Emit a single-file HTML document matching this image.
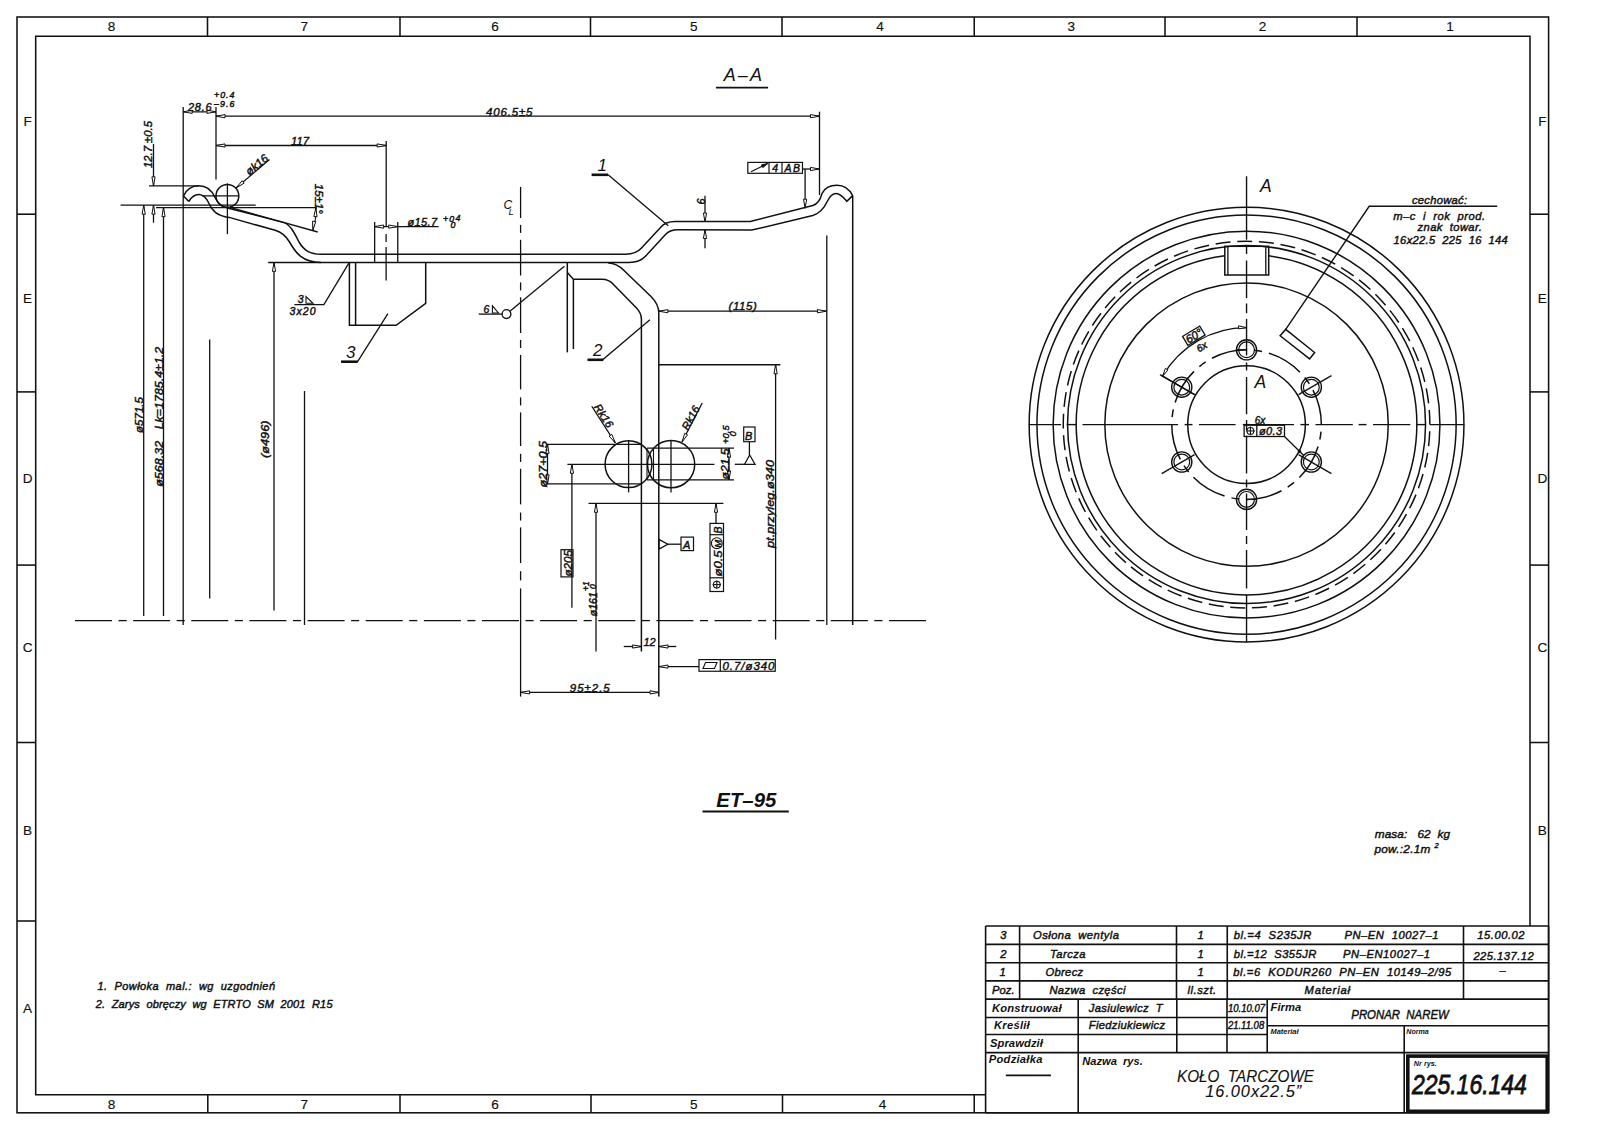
<!DOCTYPE html>
<html><head><meta charset="utf-8"><title>KOLO TARCZOWE 16.00x22.5</title>
<style>
html,body{margin:0;padding:0;background:#fff;width:1600px;height:1130px;overflow:hidden}
svg{display:block}
svg text{white-space:pre;font-family:"Liberation Sans",sans-serif;font-style:italic;fill:#111;stroke:#111;stroke-width:0.45px}
svg text[style*="font-weight:bold"]{stroke:none}
</style></head><body>
<svg width="1600" height="1130" viewBox="0 0 1600 1130">
<g stroke="#111" fill="none" stroke-width="1.5">
<rect x="17" y="17" width="1531.6" height="1095.8" stroke-width="1.55"/>
<path d="M985.6,1094.8 L35.7,1094.8 L35.7,36.2 L1530,36.2 L1530,926" stroke-width="1.55"/>
<line x1="207.5" y1="17" x2="207.5" y2="36.2" stroke-width="1.55"/>
<line x1="400" y1="17" x2="400" y2="36.2" stroke-width="1.55"/>
<line x1="590.5" y1="17" x2="590.5" y2="36.2" stroke-width="1.55"/>
<line x1="782" y1="17" x2="782" y2="36.2" stroke-width="1.55"/>
<line x1="974.25" y1="17" x2="974.25" y2="36.2" stroke-width="1.55"/>
<line x1="1165" y1="17" x2="1165" y2="36.2" stroke-width="1.55"/>
<line x1="1357" y1="17" x2="1357" y2="36.2" stroke-width="1.55"/>
<line x1="207.8" y1="1094.8" x2="207.8" y2="1112.8" stroke-width="1.55"/>
<line x1="400" y1="1094.8" x2="400" y2="1112.8" stroke-width="1.55"/>
<line x1="591" y1="1094.8" x2="591" y2="1112.8" stroke-width="1.55"/>
<line x1="782.5" y1="1094.8" x2="782.5" y2="1112.8" stroke-width="1.55"/>
<line x1="974.25" y1="1094.8" x2="974.25" y2="1112.8" stroke-width="1.55"/>
<line x1="17" y1="214.2" x2="35.7" y2="214.2" stroke-width="1.55"/>
<line x1="17" y1="391.9" x2="35.7" y2="391.9" stroke-width="1.55"/>
<line x1="17" y1="565.1" x2="35.7" y2="565.1" stroke-width="1.55"/>
<line x1="17" y1="742.5" x2="35.7" y2="742.5" stroke-width="1.55"/>
<line x1="17" y1="921" x2="35.7" y2="921" stroke-width="1.55"/>
<line x1="1530" y1="214.2" x2="1548.6" y2="214.2" stroke-width="1.55"/>
<line x1="1530" y1="391.9" x2="1548.6" y2="391.9" stroke-width="1.55"/>
<line x1="1530" y1="565.1" x2="1548.6" y2="565.1" stroke-width="1.55"/>
<line x1="1530" y1="742.5" x2="1548.6" y2="742.5" stroke-width="1.55"/>
<text x="111.5" y="31.3" style="font-size:13.6px;stroke-width:0.15px;font-style:normal;" text-anchor="middle">8</text>
<text x="304.4" y="31.3" style="font-size:13.6px;stroke-width:0.15px;font-style:normal;" text-anchor="middle">7</text>
<text x="495" y="31.3" style="font-size:13.6px;stroke-width:0.15px;font-style:normal;" text-anchor="middle">6</text>
<text x="693.75" y="31.3" style="font-size:13.6px;stroke-width:0.15px;font-style:normal;" text-anchor="middle">5</text>
<text x="880" y="31.3" style="font-size:13.6px;stroke-width:0.15px;font-style:normal;" text-anchor="middle">4</text>
<text x="1071.25" y="31.3" style="font-size:13.6px;stroke-width:0.15px;font-style:normal;" text-anchor="middle">3</text>
<text x="1262.5" y="31.3" style="font-size:13.6px;stroke-width:0.15px;font-style:normal;" text-anchor="middle">2</text>
<text x="1450" y="31.3" style="font-size:13.6px;stroke-width:0.15px;font-style:normal;" text-anchor="middle">1</text>
<text x="111.5" y="1109.3" style="font-size:13.6px;stroke-width:0.15px;font-style:normal;" text-anchor="middle">8</text>
<text x="304.4" y="1109.3" style="font-size:13.6px;stroke-width:0.15px;font-style:normal;" text-anchor="middle">7</text>
<text x="495" y="1109.3" style="font-size:13.6px;stroke-width:0.15px;font-style:normal;" text-anchor="middle">6</text>
<text x="693.75" y="1109.3" style="font-size:13.6px;stroke-width:0.15px;font-style:normal;" text-anchor="middle">5</text>
<text x="882.5" y="1109.3" style="font-size:13.6px;stroke-width:0.15px;font-style:normal;" text-anchor="middle">4</text>
<text x="27.6" y="126.4" style="font-size:13.6px;stroke-width:0.15px;font-style:normal;" text-anchor="middle">F</text>
<text x="1542.3" y="126.4" style="font-size:13.6px;stroke-width:0.15px;font-style:normal;" text-anchor="middle">F</text>
<text x="27.6" y="303.2" style="font-size:13.6px;stroke-width:0.15px;font-style:normal;" text-anchor="middle">E</text>
<text x="1542.3" y="303.2" style="font-size:13.6px;stroke-width:0.15px;font-style:normal;" text-anchor="middle">E</text>
<text x="27.6" y="483.2" style="font-size:13.6px;stroke-width:0.15px;font-style:normal;" text-anchor="middle">D</text>
<text x="1542.3" y="483.2" style="font-size:13.6px;stroke-width:0.15px;font-style:normal;" text-anchor="middle">D</text>
<text x="27.6" y="652" style="font-size:13.6px;stroke-width:0.15px;font-style:normal;" text-anchor="middle">C</text>
<text x="1542.3" y="652" style="font-size:13.6px;stroke-width:0.15px;font-style:normal;" text-anchor="middle">C</text>
<text x="27.6" y="835" style="font-size:13.6px;stroke-width:0.15px;font-style:normal;" text-anchor="middle">B</text>
<text x="1542.3" y="835" style="font-size:13.6px;stroke-width:0.15px;font-style:normal;" text-anchor="middle">B</text>
<text x="27.6" y="1012.5" style="font-size:13.6px;stroke-width:0.15px;font-style:normal;" text-anchor="middle">A</text>
<line x1="985.6" y1="926" x2="1548.6" y2="926" stroke-width="1.6"/>
<line x1="985.6" y1="926" x2="985.6" y2="1112.8" stroke-width="1.6"/>
<line x1="1548.6" y1="926" x2="1548.6" y2="1112.8" stroke-width="1.6"/>
<line x1="985.6" y1="1112.8" x2="1548.6" y2="1112.8" stroke-width="1.6"/>
<line x1="985.6" y1="944.4" x2="1548.6" y2="944.4" stroke-width="1.6"/>
<line x1="985.6" y1="962.75" x2="1548.6" y2="962.75" stroke-width="1.6"/>
<line x1="985.6" y1="980.9" x2="1548.6" y2="980.9" stroke-width="1.6"/>
<line x1="985.6" y1="999.1" x2="1548.6" y2="999.1" stroke-width="1.6"/>
<line x1="1019.6" y1="926" x2="1019.6" y2="999.1" stroke-width="1.6"/>
<line x1="1176.5" y1="926" x2="1176.5" y2="999.1" stroke-width="1.6"/>
<line x1="1227.25" y1="926" x2="1227.25" y2="999.1" stroke-width="1.6"/>
<line x1="1463.5" y1="926" x2="1463.5" y2="999.1" stroke-width="1.6"/>
<line x1="985.6" y1="1017.5" x2="1267.2" y2="1017.5" stroke-width="1.6"/>
<line x1="985.6" y1="1034.5" x2="1267.2" y2="1034.5" stroke-width="1.6"/>
<line x1="985.6" y1="1052.6" x2="1548.6" y2="1052.6" stroke-width="1.6"/>
<line x1="1267.2" y1="1025.8" x2="1548.6" y2="1025.8" stroke-width="1.6"/>
<line x1="1078.2" y1="999.1" x2="1078.2" y2="1112.8" stroke-width="1.6"/>
<line x1="1176.8" y1="999.1" x2="1176.8" y2="1052.6" stroke-width="1.6"/>
<line x1="1227" y1="999.1" x2="1227" y2="1052.6" stroke-width="1.6"/>
<line x1="1267.2" y1="999.1" x2="1267.2" y2="1052.6" stroke-width="1.6"/>
<line x1="1404.2" y1="1025.8" x2="1404.2" y2="1112.8" stroke-width="1.6"/>
<rect x="1407.8" y="1056.1" width="139.4" height="55.2" stroke-width="3.6"/>
<text x="1003.4" y="938.8" style="font-size:11.2px;" text-anchor="middle">3</text>
<text x="1033" y="938.8" style="font-size:11.2px;" textLength="86" lengthAdjust="spacing">Osłona  wentyla</text>
<text x="1200.6" y="938.8" style="font-size:11.2px;" text-anchor="middle">1</text>
<text x="1233.8" y="938.8" style="font-size:11.2px;" textLength="77.5" lengthAdjust="spacing">bl.=4  S235JR</text>
<text x="1344.5" y="938.8" style="font-size:11.2px;" textLength="94" lengthAdjust="spacing">PN–EN  10027–1</text>
<text x="1477.3" y="939.3" style="font-size:11.2px;" textLength="47.2" lengthAdjust="spacing">15.00.02</text>
<text x="1003.4" y="958.1" style="font-size:11.2px;" text-anchor="middle">2</text>
<text x="1050" y="958.1" style="font-size:11.2px;" textLength="35.5" lengthAdjust="spacing">Tarcza</text>
<text x="1200.6" y="958.1" style="font-size:11.2px;" text-anchor="middle">1</text>
<text x="1233.8" y="958.1" style="font-size:11.2px;" textLength="82.5" lengthAdjust="spacing">bl.=12  S355JR</text>
<text x="1343" y="958.1" style="font-size:11.2px;" textLength="87" lengthAdjust="spacing">PN–EN10027–1</text>
<text x="1473.4" y="959.6" style="font-size:11.2px;" textLength="60.3" lengthAdjust="spacing">225.137.12</text>
<text x="1002.5" y="975.6" style="font-size:11.2px;" text-anchor="middle">1</text>
<text x="1045.6" y="975.6" style="font-size:11.2px;" textLength="37.5" lengthAdjust="spacing">Obrecz</text>
<text x="1200.6" y="975.6" style="font-size:11.2px;" text-anchor="middle">1</text>
<text x="1233.3" y="975.6" style="font-size:11.2px;" textLength="218" lengthAdjust="spacing">bl.=6  KODUR260  PN–EN  10149–2/95</text>
<text x="1502.5" y="973.5" style="font-size:11.2px;" text-anchor="middle">–</text>
<text x="992" y="993.8" style="font-size:11.2px;" textLength="22.5" lengthAdjust="spacing">Poz.</text>
<text x="1049.4" y="993.8" style="font-size:11.2px;" textLength="76" lengthAdjust="spacing">Nazwa  części</text>
<text x="1187.5" y="993.8" style="font-size:11.2px;" textLength="28.7" lengthAdjust="spacing">ll.szt.</text>
<text x="1304.5" y="994" style="font-size:11.2px;" textLength="45.5" lengthAdjust="spacing">Materiał</text>
<text x="992" y="1012" style="font-size:11.2px;font-weight:bold;" textLength="69.5" lengthAdjust="spacing">Konstruował</text>
<text x="1088.8" y="1011.5" style="font-size:11.2px;" textLength="73.7" lengthAdjust="spacing">Jasiulewicz  T</text>
<text x="994" y="1029" style="font-size:11.2px;font-weight:bold;" textLength="35.7" lengthAdjust="spacing">Kreślił</text>
<text x="1088.8" y="1029" style="font-size:11.2px;" textLength="76.2" lengthAdjust="spacing">Fiedziukiewicz</text>
<text x="989.9" y="1047" style="font-size:11.2px;font-weight:bold;" textLength="53" lengthAdjust="spacing">Sprawdził</text>
<text x="988.8" y="1063" style="font-size:11.2px;font-weight:bold;" textLength="53.6" lengthAdjust="spacing">Podziałka</text>
<line x1="1005.8" y1="1075.4" x2="1050.9" y2="1075.4" stroke-width="1.8"/>
<text x="1082.3" y="1064.5" style="font-size:11.2px;font-weight:bold;" textLength="60.5" lengthAdjust="spacingAndGlyphs">Nazwa  rys.</text>
<text x="1227.9" y="1012.2" style="font-size:10.8px;" textLength="37.1" lengthAdjust="spacingAndGlyphs">10.10.07</text>
<text x="1227.9" y="1029.4" style="font-size:10.8px;" textLength="36.3" lengthAdjust="spacingAndGlyphs">21.11.08</text>
<text x="1270.5" y="1011.3" style="font-size:11.2px;font-weight:bold;" textLength="30.8" lengthAdjust="spacing">Firma</text>
<text x="1351.3" y="1019" style="font-size:12.4px;" textLength="97.5" lengthAdjust="spacingAndGlyphs">PRONAR  NAREW</text>
<text x="1270.5" y="1034.2" style="font-size:7.6px;font-weight:bold;" textLength="28" lengthAdjust="spacingAndGlyphs">Materiał</text>
<text x="1406.3" y="1034.2" style="font-size:7.6px;font-weight:bold;" textLength="22.5" lengthAdjust="spacingAndGlyphs">Norma</text>
<text x="1177" y="1082" style="font-size:16.4px;stroke-width:0.1px;" textLength="137" lengthAdjust="spacingAndGlyphs">KOŁO  TARCZOWE</text>
<text x="1205.2" y="1097.4" style="font-size:16.4px;stroke-width:0.1px;" textLength="96" lengthAdjust="spacing">16.00x22.5”</text>
<text x="1413.8" y="1066.3" style="font-size:7.8px;font-weight:bold;" textLength="23" lengthAdjust="spacingAndGlyphs">Nr rys.</text>
<text x="1411.9" y="1094.3" style="font-size:27px;stroke-width:0.8px;" textLength="115" lengthAdjust="spacingAndGlyphs">225.16.144</text>
<text x="97.5" y="990.3" style="font-size:11px;" textLength="177.5" lengthAdjust="spacing">1.  Powłoka  mal.:  wg  uzgodnień</text>
<text x="95.8" y="1007.8" style="font-size:11px;" textLength="236.7" lengthAdjust="spacing">2.  Zarys  obręczy  wg  ETRTO  SM  2001  R15</text>
<text x="1374.8" y="838.4" style="font-size:11.8px;" textLength="75.2" lengthAdjust="spacing">masa:   62  kg</text>
<text x="1374.4" y="853.2" style="font-size:11.8px;" textLength="56" lengthAdjust="spacing">pow.:2.1m</text>
<text x="1434.5" y="848" style="font-size:7.5px;">2</text>
<text x="716.3" y="807.3" style="font-size:20.5px;font-weight:bold;" textLength="60" lengthAdjust="spacingAndGlyphs">ET–95</text>
<line x1="702.5" y1="811.5" x2="788.8" y2="811.5" stroke-width="2"/>
<text x="723.8" y="80.9" style="font-size:18px;stroke:none;" textLength="38.1" lengthAdjust="spacing">A–A</text>
<line x1="715.9" y1="87.7" x2="768.1" y2="87.7" stroke-width="1.8"/>
<circle cx="1246.55" cy="424.6" r="217.4" stroke-width="1.5"/>
<circle cx="1246.55" cy="424.6" r="209.6" stroke-width="1.5"/>
<circle cx="1246.55" cy="424.6" r="193.4" stroke-width="1.5"/>
<circle cx="1246.55" cy="424.6" r="179" stroke-width="1.5"/>
<circle cx="1246.55" cy="424.6" r="141.7" stroke-width="1.5"/>
<circle cx="1246.55" cy="424.6" r="58.8" stroke-width="1.5"/>
<path d="M1224.8,255.69 A170.3,170.3 0 1 0 1268.7,255.75" stroke-width="1.5"/>
<circle cx="1246.55" cy="424.6" r="183.3" stroke-width="1.5" stroke-dasharray="15 6.73" stroke-dashoffset="15.1"/>
<circle cx="1246.55" cy="424.6" r="74.8" stroke-width="1.5" stroke-dasharray="36.56 7.18 7.84 7.17" stroke-dashoffset="36.56"/>
<circle cx="1246.55" cy="349.8" r="10.1" stroke-width="1.4"/>
<circle cx="1246.55" cy="349.8" r="7.9" stroke-width="1.2"/>
<circle cx="1311.33" cy="387.2" r="10.1" stroke-width="1.4"/>
<circle cx="1311.33" cy="387.2" r="7.9" stroke-width="1.2"/>
<circle cx="1311.33" cy="462" r="10.1" stroke-width="1.4"/>
<circle cx="1311.33" cy="462" r="7.9" stroke-width="1.2"/>
<circle cx="1246.55" cy="499.4" r="10.1" stroke-width="1.4"/>
<circle cx="1246.55" cy="499.4" r="7.9" stroke-width="1.2"/>
<circle cx="1181.77" cy="462" r="10.1" stroke-width="1.4"/>
<circle cx="1181.77" cy="462" r="7.9" stroke-width="1.2"/>
<circle cx="1181.77" cy="387.2" r="10.1" stroke-width="1.4"/>
<circle cx="1181.77" cy="387.2" r="7.9" stroke-width="1.2"/>
<line x1="1298.51" y1="394.6" x2="1331.42" y2="375.6" stroke-width="1.3"/>
<line x1="1298.51" y1="454.6" x2="1331.42" y2="473.6" stroke-width="1.3"/>
<line x1="1194.59" y1="394.6" x2="1161.68" y2="375.6" stroke-width="1.3"/>
<line x1="1194.59" y1="454.6" x2="1161.68" y2="473.6" stroke-width="1.3"/>
<line x1="1236.45" y1="349.8" x2="1246.55" y2="349.8" stroke-width="1.3"/>
<line x1="1246.55" y1="499.4" x2="1256.65" y2="499.4" stroke-width="1.3"/>
<rect x="1224.8" y="246.3" width="43.9" height="28.7" stroke-width="1.5"/>
<line x1="1227.9" y1="246.8" x2="1227.9" y2="275" stroke-width="1.3"/>
<line x1="1265.8" y1="246.8" x2="1265.8" y2="275" stroke-width="1.3"/>
<line x1="1028.9" y1="424.6" x2="1061" y2="424.6" stroke-width="1.4"/>
<line x1="1066.7" y1="424.6" x2="1076" y2="424.6" stroke-width="1.4"/>
<line x1="1082.5" y1="424.6" x2="1178.1" y2="424.6" stroke-width="1.4"/>
<line x1="1184.6" y1="424.6" x2="1192.5" y2="424.6" stroke-width="1.4"/>
<line x1="1199" y1="424.6" x2="1235.6" y2="424.6" stroke-width="1.4"/>
<line x1="1242.8" y1="424.6" x2="1250" y2="424.6" stroke-width="1.4"/>
<line x1="1250" y1="424.6" x2="1294" y2="424.6" stroke-width="1.4"/>
<line x1="1300.4" y1="424.6" x2="1309" y2="424.6" stroke-width="1.4"/>
<line x1="1315.5" y1="424.6" x2="1352.8" y2="424.6" stroke-width="1.4"/>
<line x1="1358.6" y1="424.6" x2="1366.5" y2="424.6" stroke-width="1.4"/>
<line x1="1373" y1="424.6" x2="1410.3" y2="424.6" stroke-width="1.4"/>
<line x1="1416" y1="424.6" x2="1425.4" y2="424.6" stroke-width="1.4"/>
<line x1="1429.7" y1="424.6" x2="1464.2" y2="424.6" stroke-width="1.4"/>
<line x1="1246.55" y1="176.3" x2="1246.55" y2="239.7" stroke-width="1.4"/>
<line x1="1246.55" y1="245.9" x2="1246.55" y2="253.9" stroke-width="1.4"/>
<line x1="1246.55" y1="260.5" x2="1246.55" y2="298.1" stroke-width="1.4"/>
<line x1="1246.55" y1="303.5" x2="1246.55" y2="313.2" stroke-width="1.4"/>
<line x1="1246.55" y1="318.9" x2="1246.55" y2="355.4" stroke-width="1.4"/>
<line x1="1246.55" y1="362.5" x2="1246.55" y2="370.4" stroke-width="1.4"/>
<line x1="1246.55" y1="377" x2="1246.55" y2="414.3" stroke-width="1.4"/>
<line x1="1246.55" y1="420" x2="1246.55" y2="430" stroke-width="1.4"/>
<line x1="1246.55" y1="435.7" x2="1246.55" y2="473.5" stroke-width="1.4"/>
<line x1="1246.55" y1="479.5" x2="1246.55" y2="487.5" stroke-width="1.4"/>
<line x1="1246.55" y1="493.5" x2="1246.55" y2="530" stroke-width="1.4"/>
<line x1="1246.55" y1="536" x2="1246.55" y2="544" stroke-width="1.4"/>
<line x1="1246.55" y1="550" x2="1246.55" y2="588.5" stroke-width="1.4"/>
<line x1="1246.55" y1="594.7" x2="1246.55" y2="642" stroke-width="1.4"/>
<text x="1260" y="192.2" style="font-size:17.5px;stroke:none;">A</text>
<text x="1254.5" y="388.3" style="font-size:17.5px;stroke:none;">A</text>
<path d="M1497.2,206.3 L1369.2,206.3 L1285.7,329.4" stroke-width="1.4"/>
<path d="M1280.1,335.75 L1285.7,329.4 L1314.6,352.5 L1309.6,358.9Z" stroke-width="1.5"/>
<text x="1412" y="204.3" style="font-size:11.2px;" textLength="55" lengthAdjust="spacing">cechować:</text>
<text x="1393.2" y="219.7" style="font-size:11.2px;" textLength="91.8" lengthAdjust="spacing">m–c  i  rok  prod.</text>
<text x="1417.6" y="231.4" style="font-size:11.2px;" textLength="64.2" lengthAdjust="spacing">znak  towar.</text>
<text x="1393.6" y="244.1" style="font-size:11.2px;" textLength="114.2" lengthAdjust="spacing">16x22.5  225  16  144</text>
<path d="M1246.55,327.7 A96.9,96.9 0 0 0 1162.63,376.15" stroke-width="1.3"/>
<path d="M1246.55,327.7 L1238.49,328.8 L1238.63,325.8Z" stroke-width="1" fill="#fff"/>
<path d="M1162.63,376.15 L1165.32,368.47 L1167.92,369.96Z" stroke-width="1" fill="#fff"/>
<line x1="1195.19" y1="394.95" x2="1160.03" y2="374.65" stroke-width="1.3"/>
<g transform="translate(1193.8,335.7) rotate(-31)"><rect x="-10" y="-5.2" width="20" height="10.4" stroke-width="1.3"/><text x="0" y="4.3" style="font-size:11.5px" text-anchor="middle">60°</text><text x="1" y="17" style="font-size:10px" text-anchor="middle">6x</text></g>
<rect x="1244.1" y="425.2" width="40.4" height="11.3" stroke-width="1.3"/>
<line x1="1256.8" y1="425.2" x2="1256.8" y2="436.5" stroke-width="1.3"/>
<circle cx="1250.4" cy="430.9" r="3.4" stroke-width="1.1"/>
<line x1="1246" y1="430.9" x2="1254.8" y2="430.9" stroke-width="1.1"/>
<line x1="1250.4" y1="426.5" x2="1250.4" y2="435.3" stroke-width="1.1"/>
<text x="1259" y="435.3" style="font-size:11px;" textLength="23" lengthAdjust="spacing">ø0.3</text>
<text x="1254.8" y="424" style="font-size:10px;">6x</text>
<line x1="1284.5" y1="436.5" x2="1304" y2="455.7" stroke-width="1.3"/>
<circle cx="1299.5" cy="451.3" r="1.3" stroke-width="1" fill="#111"/>
<path d="M183.5,196 C186.5,189.5 192,185.8 198.8,185.8 C206,185.8 211.5,190 214.8,197 C217.5,203 221,206.5 227.5,207.9 L284,222.6 C290,224.5 294,232 299,242 C304,250.5 310,254.2 321,254.2 L625.5,254.2 C633,254.2 637.5,252.5 641.5,248 L660.5,227.5 C663.5,223.8 668,221.6 675,221.6 L750.4,221.5 L812.8,205.5 C818.5,204 820.5,199 822,193.5 C824.5,187.8 830,185.2 837,185.2 C844,185.2 849.5,189.5 852.7,195.6" stroke-width="1.5"/>
<path d="M188.8,201.5 C191.5,197 194.8,194.5 199,194.6 C203.5,194.8 206.5,198 209,203.5 C212.5,211 216.5,215.5 229.2,217.4 L275.2,230.3 C282.5,232.5 286,236 289.5,242 C295.5,252.5 302,262.4 321,262.4 L629,262.4 C636.5,262.4 641.5,260.5 645.5,256.2 L665,235 C668.5,231 672,229.8 678,229.8 L751.8,230.1 L812.8,215.5 C819.5,213.5 824,208.5 827.5,201 C830,196 832.5,193.5 836,193.5 C839.5,193.5 843,196.5 846.8,201.3 L852.7,195.6" stroke-width="1.5"/>
<line x1="183.5" y1="196" x2="188.8" y2="201.5" stroke-width="1.5"/>
<line x1="268.2" y1="262.4" x2="321" y2="262.4" stroke-width="1.5"/>
<circle cx="227.4" cy="195.9" r="11.4" stroke-width="1.5"/>
<line x1="227.4" y1="183.4" x2="227.4" y2="234.2" stroke-width="1.3"/>
<line x1="202" y1="195.9" x2="238.5" y2="195.9" stroke-width="1.3"/>
<line x1="149" y1="185.8" x2="199" y2="185.8" stroke-width="1.3"/>
<line x1="120.6" y1="205.2" x2="255.7" y2="205.2" stroke-width="1.3"/>
<line x1="156" y1="207.7" x2="316.8" y2="207.7" stroke-width="1.3"/>
<line x1="231" y1="207.7" x2="317.7" y2="232" stroke-width="1.3"/>
<path d="M315.9,207.7 Q316.5,219 312.8,230.3" stroke-width="1.1"/>
<path d="M315.9,207.7 L317.05,216.77 L313.85,216.61Z" stroke-width="1" fill="#fff"/>
<path d="M312.8,230.3 L312.55,221.16 L315.72,221.64Z" stroke-width="1" fill="#fff"/>
<text x="0" y="0" style="font-size:1px;"></text>
<text x="0" y="0" transform="translate(315.2,183.8) rotate(90)" style="font-size:11.5px">15±1°</text>
<line x1="269.5" y1="159.5" x2="236.3" y2="187.8" stroke-width="1.3"/>
<path d="M236.3,187.8 L242.11,180.74 L244.19,183.18Z" stroke-width="1" fill="#fff"/>
<text x="0" y="0" transform="translate(249.5,176) rotate(-40)" style="font-size:11.5px">øk16</text>
<line x1="183.2" y1="107" x2="183.2" y2="625" stroke-width="1.3"/>
<line x1="216" y1="107" x2="216" y2="179.4" stroke-width="1.3"/>
<line x1="183.2" y1="111.8" x2="216" y2="111.8" stroke-width="1.3"/>
<path d="M183.2,111.8 L192.2,110.2 L192.2,113.4Z" stroke-width="1" fill="#fff"/>
<path d="M216,111.8 L207,113.4 L207,110.2Z" stroke-width="1" fill="#fff"/>
<text x="188" y="110.5" style="font-size:11px;" textLength="23.5" lengthAdjust="spacing">28.6</text>
<text x="214" y="98" style="font-size:8.8px;" textLength="20.5" lengthAdjust="spacing">+0.4</text>
<text x="214" y="106.5" style="font-size:8.8px;" textLength="20.5" lengthAdjust="spacing">–9.6</text>
<line x1="216" y1="116.2" x2="819.5" y2="116.2" stroke-width="1.3"/>
<path d="M216,116.2 L225,114.6 L225,117.8Z" stroke-width="1" fill="#fff"/>
<path d="M819.5,116.2 L810.5,117.8 L810.5,114.6Z" stroke-width="1" fill="#fff"/>
<text x="486" y="115.5" style="font-size:11.5px;" textLength="46.5" lengthAdjust="spacing">406.5±5</text>
<line x1="819.5" y1="111.7" x2="819.5" y2="194.9" stroke-width="1.3"/>
<line x1="216" y1="145.5" x2="386.2" y2="145.5" stroke-width="1.3"/>
<path d="M216,145.5 L225,143.9 L225,147.1Z" stroke-width="1" fill="#fff"/>
<path d="M386.2,145.5 L377.2,147.1 L377.2,143.9Z" stroke-width="1" fill="#fff"/>
<text x="291" y="145" style="font-size:11.5px;" textLength="18" lengthAdjust="spacingAndGlyphs">117</text>
<line x1="386.2" y1="141" x2="386.2" y2="226.6" stroke-width="1.3"/>
<line x1="153.5" y1="144" x2="153.5" y2="185.8" stroke-width="1.3"/>
<path d="M153.5,185.8 L151.9,176.8 L155.1,176.8Z" stroke-width="1" fill="#fff"/>
<line x1="153.5" y1="205.2" x2="153.5" y2="222.7" stroke-width="1.3"/>
<path d="M153.5,205.2 L155.1,214.2 L151.9,214.2Z" stroke-width="1" fill="#fff"/>
<text x="0" y="0" transform="translate(151.5,168) rotate(-90)" style="font-size:11px" textLength="47" lengthAdjust="spacingAndGlyphs">12.7 ±0.5</text>
<line x1="143.7" y1="205.2" x2="143.7" y2="616" stroke-width="1.3"/>
<path d="M143.7,205.2 L145.3,214.2 L142.1,214.2Z" stroke-width="1" fill="#fff"/>
<line x1="163.5" y1="207.7" x2="163.5" y2="616" stroke-width="1.3"/>
<path d="M163.5,207.7 L165.1,216.7 L161.9,216.7Z" stroke-width="1" fill="#fff"/>
<line x1="209.7" y1="339.5" x2="209.7" y2="598.5" stroke-width="1.3"/>
<line x1="274" y1="262.4" x2="274" y2="610.5" stroke-width="1.3"/>
<path d="M274,262.4 L275.6,271.4 L272.4,271.4Z" stroke-width="1" fill="#fff"/>
<line x1="304.5" y1="391" x2="304.5" y2="625" stroke-width="1.3"/>
<text x="0" y="0" transform="translate(143,433) rotate(-90)" style="font-size:11.5px" textLength="36" lengthAdjust="spacingAndGlyphs">ø571.5</text>
<text x="0" y="0" transform="translate(162.7,429.3) rotate(-90)" style="font-size:11.5px" textLength="82.5" lengthAdjust="spacingAndGlyphs">Lk=1785.4±1.2</text>
<text x="0" y="0" transform="translate(162.7,486.8) rotate(-90)" style="font-size:11.5px" textLength="46" lengthAdjust="spacingAndGlyphs">ø568.32</text>
<text x="0" y="0" transform="translate(269.3,458) rotate(-90)" style="font-size:11.5px" textLength="37.5" lengthAdjust="spacingAndGlyphs">(ø496)</text>
<line x1="374.65" y1="222.1" x2="374.65" y2="262.4" stroke-width="1.3"/>
<line x1="397.75" y1="222.1" x2="397.75" y2="262.4" stroke-width="1.3"/>
<line x1="386.1" y1="234" x2="386.1" y2="242" stroke-width="1.3"/>
<line x1="386.1" y1="247" x2="386.1" y2="280.6" stroke-width="1.3"/>
<line x1="374.65" y1="226.6" x2="438.6" y2="226.6" stroke-width="1.3"/>
<path d="M374.65,226.6 L383.65,225 L383.65,228.2Z" stroke-width="1" fill="#fff"/>
<path d="M397.75,226.6 L388.75,228.2 L388.75,225Z" stroke-width="1" fill="#fff"/>
<text x="407.5" y="225.9" style="font-size:11px;" textLength="29.6" lengthAdjust="spacing">ø15.7</text>
<text x="443.1" y="221.7" style="font-size:8.8px;" textLength="11" lengthAdjust="spacing">+0</text>
<text x="455.5" y="220.5" style="font-size:8.8px;">4</text>
<text x="450.6" y="227.5" style="font-size:8.8px;">0</text>
<path d="M349.4,262.4 L349.4,325.25 L396.1,325.25 L425.7,303.25 L425.7,262.4" stroke-width="1.5"/>
<line x1="355.6" y1="262.4" x2="355.6" y2="325.25" stroke-width="1.5"/>
<path d="M294.4,304.6 L323.9,304.6 L348.7,263.4" stroke-width="1.3"/>
<text x="297.8" y="303.3" style="font-size:10.5px;">3</text>
<path d="M306,303.3 L306,296.5 L313,303.3 Z" stroke-width="1.1"/>
<text x="289.6" y="315" style="font-size:10.5px;" textLength="26" lengthAdjust="spacing">3x20</text>
<path d="M341.1,361.7 L357.6,361.7 L387.9,313.6" stroke-width="1.3"/>
<line x1="341.1" y1="361.7" x2="357.6" y2="361.7" stroke-width="2.6"/>
<text x="346" y="357.8" style="font-size:17px;stroke:none;">3</text>
<line x1="520.6" y1="186.9" x2="520.6" y2="218" stroke-width="1.3"/>
<text x="503.5" y="209" style="font-size:12px;stroke:none;">C</text>
<text x="508.5" y="214.5" style="font-size:9.5px;stroke:none;">L</text>
<line x1="520.6" y1="224.9" x2="520.6" y2="232.9" stroke-width="1.3"/>
<line x1="520.6" y1="239.8" x2="520.6" y2="275.5" stroke-width="1.3"/>
<line x1="520.6" y1="282.4" x2="520.6" y2="290.4" stroke-width="1.3"/>
<line x1="520.6" y1="297.3" x2="520.6" y2="333" stroke-width="1.3"/>
<line x1="520.6" y1="339.9" x2="520.6" y2="348" stroke-width="1.3"/>
<line x1="520.6" y1="354.9" x2="520.6" y2="389.4" stroke-width="1.3"/>
<line x1="520.6" y1="397.4" x2="520.6" y2="405.5" stroke-width="1.3"/>
<line x1="520.6" y1="412.4" x2="520.6" y2="446" stroke-width="1.3"/>
<line x1="520.6" y1="453.8" x2="520.6" y2="461.9" stroke-width="1.3"/>
<line x1="520.6" y1="468.8" x2="520.6" y2="504.4" stroke-width="1.3"/>
<line x1="520.6" y1="512.5" x2="520.6" y2="520.5" stroke-width="1.3"/>
<line x1="520.6" y1="527.4" x2="520.6" y2="563.1" stroke-width="1.3"/>
<line x1="520.6" y1="571.2" x2="520.6" y2="580.4" stroke-width="1.3"/>
<line x1="520.6" y1="588.4" x2="520.6" y2="696.6" stroke-width="1.3"/>
<line x1="608.1" y1="174.8" x2="668.25" y2="225.75" stroke-width="1.3"/>
<line x1="591.6" y1="174.8" x2="608.1" y2="174.8" stroke-width="2.6"/>
<text x="597.5" y="171" style="font-size:17px;stroke:none;">1</text>
<line x1="705" y1="195.75" x2="705" y2="222" stroke-width="1.3"/>
<path d="M705,222 L703.4,213 L706.6,213Z" stroke-width="1" fill="#fff"/>
<line x1="705" y1="229.5" x2="705" y2="248.25" stroke-width="1.3"/>
<path d="M705,229.5 L706.6,238.5 L703.4,238.5Z" stroke-width="1" fill="#fff"/>
<text x="0" y="0" transform="translate(704.6,204.5) rotate(-90)" style="font-size:11px">6</text>
<rect x="747.8" y="162.4" width="54.7" height="10.9" stroke-width="1.2"/>
<line x1="769" y1="162.4" x2="769" y2="173.3" stroke-width="1.2"/>
<line x1="782" y1="162.4" x2="782" y2="173.3" stroke-width="1.2"/>
<line x1="751" y1="171.8" x2="767.5" y2="163.6" stroke-width="1.2"/>
<path d="M767.5,163.6 L762.8,167.62 L761.46,164.94Z" stroke-width="1" fill="#111"/>
<text x="772.3" y="172" style="font-size:10.5px;">4</text>
<text x="784.5" y="172" style="font-size:10.5px;" textLength="15.5" lengthAdjust="spacing">AB</text>
<line x1="802.5" y1="169" x2="819.5" y2="169" stroke-width="1.3"/>
<path d="M819.5,169 L810.5,170.6 L810.5,167.4Z" stroke-width="1" fill="#fff"/>
<line x1="805.1" y1="169" x2="805.1" y2="208.2" stroke-width="1.3"/>
<path d="M805.1,208.2 L803.5,199.2 L806.7,199.2Z" stroke-width="1" fill="#fff"/>
<line x1="852.7" y1="195.6" x2="852.7" y2="625" stroke-width="1.5"/>
<line x1="826.8" y1="235.4" x2="826.8" y2="625" stroke-width="1.3"/>
<path d="M608.25,263 C615,263 619.5,266 624,270.5 L651,296.5 C655.5,301 658.8,306 658.8,313 L658.8,696.6" stroke-width="1.5"/>
<path d="M573.4,279.25 L602,279.25 C607.5,279.25 610.5,281 613.5,284.5 L636.5,308 C639.5,311.2 641.4,314.5 641.4,319 L641.4,651.6" stroke-width="1.5"/>
<line x1="567.3" y1="262.4" x2="567.3" y2="352.4" stroke-width="1.5"/>
<line x1="573.4" y1="279.25" x2="573.4" y2="349" stroke-width="1.5"/>
<line x1="567.3" y1="272.5" x2="573.4" y2="279.25" stroke-width="1.5"/>
<line x1="564.4" y1="266.2" x2="509.6" y2="311.6" stroke-width="1.3"/>
<circle cx="506.5" cy="314.1" r="4.4" stroke-width="1.3"/>
<line x1="478.8" y1="314.1" x2="502" y2="314.1" stroke-width="1.3"/>
<text x="483.4" y="313" style="font-size:10.5px;">6</text>
<path d="M492.4,313 L492.4,305.8 L498.5,313 Z" stroke-width="1.1"/>
<line x1="658.9" y1="311.2" x2="826.5" y2="311.2" stroke-width="1.3"/>
<path d="M658.9,311.2 L667.9,309.6 L667.9,312.8Z" stroke-width="1" fill="#fff"/>
<path d="M826.5,311.2 L817.5,312.8 L817.5,309.6Z" stroke-width="1" fill="#fff"/>
<text x="728.6" y="309.6" style="font-size:11.5px;" textLength="28.2" lengthAdjust="spacing">(115)</text>
<path d="M587.6,359.8 L602.6,359.8 L649.9,319.75" stroke-width="1.3"/>
<line x1="587.6" y1="359.8" x2="603.3" y2="359.8" stroke-width="2.6"/>
<text x="593" y="356" style="font-size:17px;stroke:none;">2</text>
<line x1="658.9" y1="364.75" x2="780.4" y2="364.75" stroke-width="1.3"/>
<line x1="775.6" y1="364.75" x2="775.6" y2="639.4" stroke-width="1.3"/>
<path d="M775.6,364.75 L777.2,373.75 L774,373.75Z" stroke-width="1" fill="#fff"/>
<text x="0" y="0" transform="translate(773.8,548) rotate(-90)" style="font-size:11.5px" textLength="88" lengthAdjust="spacingAndGlyphs">pt.przyleg.ø340</text>
<circle cx="628.5" cy="464.2" r="23.4" stroke-width="1.5"/>
<circle cx="671.1" cy="464.2" r="23.6" stroke-width="1.5"/>
<line x1="628.6" y1="440" x2="628.6" y2="492.4" stroke-width="1.3"/>
<line x1="671" y1="440" x2="671" y2="492.4" stroke-width="1.3"/>
<line x1="567.4" y1="464.3" x2="714.4" y2="464.3" stroke-width="1.3"/>
<line x1="546.2" y1="444.4" x2="641.5" y2="444.4" stroke-width="1.3"/>
<line x1="546.2" y1="483.9" x2="641.5" y2="483.9" stroke-width="1.3"/>
<line x1="647" y1="448.2" x2="734" y2="448.2" stroke-width="1.3"/>
<line x1="647" y1="479.9" x2="734" y2="479.9" stroke-width="1.3"/>
<line x1="647" y1="448.2" x2="647" y2="479.9" stroke-width="1.1"/>
<line x1="653.5" y1="448.2" x2="653.5" y2="479.9" stroke-width="1.1"/>
<line x1="547.5" y1="444.4" x2="547.5" y2="483.9" stroke-width="1.3"/>
<path d="M547.5,444.4 L549.1,453.4 L545.9,453.4Z" stroke-width="1" fill="#fff"/>
<path d="M547.5,483.9 L545.9,474.9 L549.1,474.9Z" stroke-width="1" fill="#fff"/>
<text x="0" y="0" transform="translate(547,487.5) rotate(-90)" style="font-size:11px" textLength="46.5" lengthAdjust="spacingAndGlyphs">ø27+0.5</text>
<line x1="729" y1="448.2" x2="729" y2="479.9" stroke-width="1.3"/>
<path d="M729,448.2 L730.6,457.2 L727.4,457.2Z" stroke-width="1" fill="#fff"/>
<path d="M729,479.9 L727.4,470.9 L730.6,470.9Z" stroke-width="1" fill="#fff"/>
<text x="0" y="0" transform="translate(729,479.4) rotate(-90)" style="font-size:11px" textLength="31" lengthAdjust="spacingAndGlyphs">ø21.5</text>
<text x="0" y="0" transform="translate(728.5,444) rotate(-90)" style="font-size:9.5px">+0,5</text>
<text x="0" y="0" transform="translate(735.5,436.5) rotate(-90)" style="font-size:9.5px">0</text>
<rect x="743.7" y="427" width="11.3" height="14.7" stroke-width="1.2"/>
<text x="745" y="439.6" style="font-size:11px;">B</text>
<line x1="749.4" y1="441.7" x2="749.4" y2="455" stroke-width="1.3"/>
<path d="M744.5,464.3 L755,464.3 L749.7,455Z" stroke-width="1.3"/>
<line x1="734.75" y1="464.3" x2="744.5" y2="464.3" stroke-width="1.3"/>
<line x1="591.75" y1="406.25" x2="615.3" y2="442.8" stroke-width="1.3"/>
<path d="M615.3,442.8 L609.08,436.1 L611.77,434.37Z" stroke-width="1" fill="#fff"/>
<line x1="702.25" y1="403" x2="682" y2="442" stroke-width="1.3"/>
<path d="M682,442 L684.73,433.28 L687.57,434.75Z" stroke-width="1" fill="#fff"/>
<text x="0" y="0" transform="translate(593.5,407) rotate(57)" style="font-size:11px">Rk16</text>
<text x="0" y="0" transform="translate(688,431) rotate(-62)" style="font-size:11px">Rk16</text>
<line x1="588.5" y1="503.3" x2="723.4" y2="503.3" stroke-width="1.3"/>
<line x1="596" y1="503.3" x2="596" y2="651.6" stroke-width="1.3"/>
<path d="M596,503.3 L597.6,512.3 L594.4,512.3Z" stroke-width="1" fill="#fff"/>
<line x1="716" y1="503.3" x2="716" y2="523.4" stroke-width="1.3"/>
<path d="M716,503.3 L717.6,512.3 L714.4,512.3Z" stroke-width="1" fill="#fff"/>
<line x1="571.9" y1="464.3" x2="571.9" y2="607.8" stroke-width="1.3"/>
<path d="M571.9,464.3 L573.5,473.3 L570.3,473.3Z" stroke-width="1" fill="#fff"/>
<rect x="561" y="549.7" width="12" height="27.2" stroke-width="1.2"/>
<text x="0" y="0" transform="translate(571.8,576.5) rotate(-90)" style="font-size:11px" textLength="26.5" lengthAdjust="spacingAndGlyphs">ø205</text>
<text x="0" y="0" transform="translate(596.5,616.2) rotate(-90)" style="font-size:11px" textLength="24" lengthAdjust="spacingAndGlyphs">ø161</text>
<text x="0" y="0" transform="translate(589,591) rotate(-90)" style="font-size:8.5px">+1</text>
<text x="0" y="0" transform="translate(596,589) rotate(-90)" style="font-size:8.5px">0</text>
<rect x="710" y="523.4" width="13.5" height="68.1" stroke-width="1.2"/>
<line x1="710" y1="534.7" x2="723.5" y2="534.7" stroke-width="1.2"/>
<line x1="710" y1="577.8" x2="723.5" y2="577.8" stroke-width="1.2"/>
<text x="0" y="0" transform="translate(721.5,533.5) rotate(-90)" style="font-size:10.5px">B</text>
<circle cx="716.8" cy="543.2" r="5.4" stroke-width="1.1"/>
<text x="0" y="0" transform="translate(720.6,547.8) rotate(-90)" style="font-size:9.5px">M</text>
<text x="0" y="0" transform="translate(721.5,576.5) rotate(-90)" style="font-size:11px" textLength="26" lengthAdjust="spacingAndGlyphs">ø0.5</text>
<circle cx="716.8" cy="584.6" r="3.4" stroke-width="1.1"/>
<line x1="712.6" y1="584.6" x2="721" y2="584.6" stroke-width="1.1"/>
<line x1="716.8" y1="580.4" x2="716.8" y2="588.8" stroke-width="1.1"/>
<path d="M659,539.4 L659,549.1 L667.8,544.2Z" stroke-width="1.3"/>
<line x1="667.8" y1="544.2" x2="681" y2="544.2" stroke-width="1.3"/>
<rect x="681" y="537.1" width="12.5" height="13.5" stroke-width="1.2"/>
<text x="683" y="548.5" style="font-size:11px;">A</text>
<line x1="623.75" y1="646.5" x2="641.6" y2="646.5" stroke-width="1.3"/>
<path d="M641.6,646.5 L632.6,648.1 L632.6,644.9Z" stroke-width="1" fill="#fff"/>
<line x1="659" y1="646.5" x2="676.25" y2="646.5" stroke-width="1.3"/>
<path d="M659,646.5 L668,644.9 L668,648.1Z" stroke-width="1" fill="#fff"/>
<text x="643.4" y="646.2" style="font-size:11px;" textLength="12.2" lengthAdjust="spacingAndGlyphs">12</text>
<line x1="659" y1="666.6" x2="699" y2="666.6" stroke-width="1.3"/>
<path d="M659,666.6 L668,665 L668,668.2Z" stroke-width="1" fill="#fff"/>
<rect x="699" y="659.6" width="76.25" height="11.65" stroke-width="1.2"/>
<line x1="720.3" y1="659.6" x2="720.3" y2="671.25" stroke-width="1.2"/>
<path d="M703,668.5 L705.5,662.5 L717,662.5 L714.5,668.5Z" stroke-width="1.1"/>
<text x="722.5" y="670" style="font-size:11.5px;" textLength="52" lengthAdjust="spacing">0.7/ø340</text>
<line x1="520.6" y1="692.4" x2="659" y2="692.4" stroke-width="1.3"/>
<path d="M520.6,692.4 L529.6,690.8 L529.6,694Z" stroke-width="1" fill="#fff"/>
<path d="M659,692.4 L650,694 L650,690.8Z" stroke-width="1" fill="#fff"/>
<text x="569.75" y="691.9" style="font-size:11.5px;" textLength="40" lengthAdjust="spacing">95±2.5</text>
<line x1="75" y1="620.6" x2="112" y2="620.6" stroke-width="1.3"/>
<line x1="118.5" y1="620.6" x2="126.64" y2="620.6" stroke-width="1.3"/>
<line x1="133.14" y1="620.6" x2="170.14" y2="620.6" stroke-width="1.3"/>
<line x1="176.64" y1="620.6" x2="184.78" y2="620.6" stroke-width="1.3"/>
<line x1="191.28" y1="620.6" x2="228.28" y2="620.6" stroke-width="1.3"/>
<line x1="234.78" y1="620.6" x2="242.92" y2="620.6" stroke-width="1.3"/>
<line x1="249.42" y1="620.6" x2="286.42" y2="620.6" stroke-width="1.3"/>
<line x1="292.92" y1="620.6" x2="301.06" y2="620.6" stroke-width="1.3"/>
<line x1="307.56" y1="620.6" x2="344.56" y2="620.6" stroke-width="1.3"/>
<line x1="351.06" y1="620.6" x2="359.2" y2="620.6" stroke-width="1.3"/>
<line x1="365.7" y1="620.6" x2="402.7" y2="620.6" stroke-width="1.3"/>
<line x1="409.2" y1="620.6" x2="417.34" y2="620.6" stroke-width="1.3"/>
<line x1="423.84" y1="620.6" x2="460.84" y2="620.6" stroke-width="1.3"/>
<line x1="467.34" y1="620.6" x2="475.48" y2="620.6" stroke-width="1.3"/>
<line x1="481.98" y1="620.6" x2="518.98" y2="620.6" stroke-width="1.3"/>
<line x1="525.48" y1="620.6" x2="533.62" y2="620.6" stroke-width="1.3"/>
<line x1="540.12" y1="620.6" x2="577.12" y2="620.6" stroke-width="1.3"/>
<line x1="583.62" y1="620.6" x2="591.76" y2="620.6" stroke-width="1.3"/>
<line x1="598.26" y1="620.6" x2="635.26" y2="620.6" stroke-width="1.3"/>
<line x1="641.76" y1="620.6" x2="649.9" y2="620.6" stroke-width="1.3"/>
<line x1="656.4" y1="620.6" x2="693.4" y2="620.6" stroke-width="1.3"/>
<line x1="699.9" y1="620.6" x2="708.04" y2="620.6" stroke-width="1.3"/>
<line x1="714.54" y1="620.6" x2="751.54" y2="620.6" stroke-width="1.3"/>
<line x1="758.04" y1="620.6" x2="766.18" y2="620.6" stroke-width="1.3"/>
<line x1="772.68" y1="620.6" x2="809.68" y2="620.6" stroke-width="1.3"/>
<line x1="816.18" y1="620.6" x2="824.32" y2="620.6" stroke-width="1.3"/>
<line x1="830.82" y1="620.6" x2="867.82" y2="620.6" stroke-width="1.3"/>
<line x1="874.32" y1="620.6" x2="882.46" y2="620.6" stroke-width="1.3"/>
<line x1="888.96" y1="620.6" x2="925.96" y2="620.6" stroke-width="1.3"/>
</g>
</svg></body></html>
